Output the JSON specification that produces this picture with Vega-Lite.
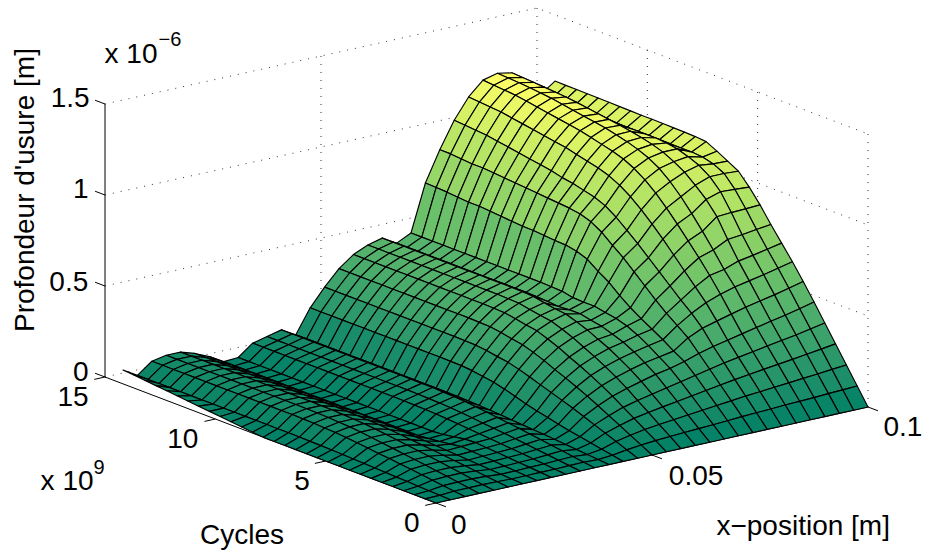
{"$schema":"https://vega.github.io/schema/vega-lite/v6.json","width":925,"height":554,"padding":0,"autosize":{"type":"fit","contains":"padding"},"background":"white","view":{"stroke":null},
"config":{"text":{"font":"Liberation Sans"}},
"layer":[
{"data":{"values":[
{"g":"z0","n":0,"x":0,"c":15,"z":0},{"g":"z0","n":1,"x":0.1,"c":15,"z":0},{"g":"z0","n":2,"x":0.1,"c":0,"z":0},
{"g":"z1","n":0,"x":0,"c":15,"z":0.5},{"g":"z1","n":1,"x":0.1,"c":15,"z":0.5},{"g":"z1","n":2,"x":0.1,"c":0,"z":0.5},
{"g":"z2","n":0,"x":0,"c":15,"z":1},{"g":"z2","n":1,"x":0.1,"c":15,"z":1},{"g":"z2","n":2,"x":0.1,"c":0,"z":1},
{"g":"z3","n":0,"x":0,"c":15,"z":1.5},{"g":"z3","n":1,"x":0.1,"c":15,"z":1.5},{"g":"z3","n":2,"x":0.1,"c":0,"z":1.5},
{"g":"v1","n":0,"x":0.05,"c":15,"z":0},{"g":"v1","n":1,"x":0.05,"c":15,"z":1.5},
{"g":"v2","n":0,"x":0.1,"c":15,"z":0},{"g":"v2","n":1,"x":0.1,"c":15,"z":1.5},
{"g":"v3","n":0,"x":0.1,"c":10,"z":0},{"g":"v3","n":1,"x":0.1,"c":10,"z":1.5},
{"g":"v4","n":0,"x":0.1,"c":5,"z":0},{"g":"v4","n":1,"x":0.1,"c":5,"z":1.5},
{"g":"v5","n":0,"x":0.1,"c":0,"z":0},{"g":"v5","n":1,"x":0.1,"c":0,"z":1.5}]},
"transform":[{"calculate":"436+datum.x*4320-datum.c*331/15","as":"sx"},{"calculate":"503-datum.x*960-datum.c*126/15-datum.z*182","as":"sy"}],
"mark":{"type":"line","stroke":"#333","strokeWidth":1,"strokeDash":[1,7]},
"encoding":{"x":{"field":"sx","type":"quantitative","scale":{"domain":[0,925]},"axis":null},"y":{"field":"sy","type":"quantitative","scale":{"domain":[554,0]},"axis":null},"detail":{"field":"g"},"order":{"field":"n"}}},
{"data":{"values":[
{"g":"az","n":0,"x":0,"c":15,"z":0},{"g":"az","n":1,"x":0,"c":15,"z":1.5},
{"g":"ac","n":0,"x":0,"c":15,"z":0},{"g":"ac","n":1,"x":0,"c":0,"z":0},
{"g":"ax","n":0,"x":0,"c":0,"z":0},{"g":"ax","n":1,"x":0.1,"c":0,"z":0},
{"g":"tz0","n":0,"x":0,"c":15,"z":0},{"g":"tz0","n":1,"x":0,"c":15.45,"z":0},
{"g":"tz1","n":0,"x":0,"c":15,"z":0.5},{"g":"tz1","n":1,"x":0,"c":15.45,"z":0.5},
{"g":"tz2","n":0,"x":0,"c":15,"z":1},{"g":"tz2","n":1,"x":0,"c":15.45,"z":1},
{"g":"tz3","n":0,"x":0,"c":15,"z":1.5},{"g":"tz3","n":1,"x":0,"c":15.45,"z":1.5},
{"g":"tc0","n":0,"x":0,"c":0,"z":0},{"g":"tc0","n":1,"x":-0.0025,"c":0,"z":0},
{"g":"tc1","n":0,"x":0,"c":5,"z":0},{"g":"tc1","n":1,"x":-0.0025,"c":5,"z":0},
{"g":"tc2","n":0,"x":0,"c":10,"z":0},{"g":"tc2","n":1,"x":-0.0025,"c":10,"z":0},
{"g":"tc3","n":0,"x":0,"c":15,"z":0},{"g":"tc3","n":1,"x":-0.0025,"c":15,"z":0},
{"g":"tx0","n":0,"x":0,"c":0,"z":0},{"g":"tx0","n":1,"x":0,"c":-0.45,"z":0},
{"g":"tx1","n":0,"x":0.05,"c":0,"z":0},{"g":"tx1","n":1,"x":0.05,"c":-0.45,"z":0},
{"g":"tx2","n":0,"x":0.1,"c":0,"z":0},{"g":"tx2","n":1,"x":0.1,"c":-0.45,"z":0}]},
"transform":[{"calculate":"436+datum.x*4320-datum.c*331/15","as":"sx"},{"calculate":"503-datum.x*960-datum.c*126/15-datum.z*182","as":"sy"}],
"mark":{"type":"line","stroke":"black","strokeWidth":1},
"encoding":{"x":{"field":"sx","type":"quantitative","scale":{"domain":[0,925]},"axis":null},"y":{"field":"sy","type":"quantitative","scale":{"domain":[554,0]},"axis":null},"detail":{"field":"g"},"order":{"field":"n"}}},
{"data":{"values":[
{"i":30,"j":29,"z":1.137},{"i":30,"j":28,"z":1.136},{"i":30,"j":27,"z":1.136},{"i":30,"j":26,"z":1.135},{"i":30,"j":25,"z":1.134},{"i":30,"j":24,"z":1.133},{"i":30,"j":23,"z":1.132},{"i":30,"j":22,"z":1.131},{"i":30,"j":21,"z":1.13},{"i":30,"j":20,"z":1.13},{"i":30,"j":19,"z":1.129},{"i":30,"j":18,"z":1.128},{"i":30,"j":17,"z":1.127},{"i":30,"j":16,"z":1.125},{"i":30,"j":15,"z":1.12},{"i":30,"j":14,"z":1.09},{"i":30,"j":13,"z":1.058},{"i":30,"j":12,"z":1.025},{"i":30,"j":11,"z":0.96},{"i":30,"j":10,"z":0.885},{"i":30,"j":9,"z":0.8},{"i":30,"j":8,"z":0.72},{"i":30,"j":7,"z":0.64},{"i":30,"j":6,"z":0.554},{"i":30,"j":5,"z":0.464},{"i":30,"j":4,"z":0.371},{"i":30,"j":3,"z":0.279},{"i":30,"j":2,"z":0.186},{"i":30,"j":1,"z":0.093},{"i":30,"j":0,"z":0},
{"i":29,"j":29,"z":1.08},{"i":29,"j":28,"z":1.08},{"i":29,"j":27,"z":1.08},{"i":29,"j":26,"z":1.08},{"i":29,"j":25,"z":1.08},{"i":29,"j":24,"z":1.08},{"i":29,"j":23,"z":1.08},{"i":29,"j":22,"z":1.08},{"i":29,"j":21,"z":1.08},{"i":29,"j":20,"z":1.08},{"i":29,"j":19,"z":1.08},{"i":29,"j":18,"z":1.08},{"i":29,"j":17,"z":1.08},{"i":29,"j":16,"z":1.08},{"i":29,"j":15,"z":1.08},{"i":29,"j":14,"z":1.075},{"i":29,"j":13,"z":1.06},{"i":29,"j":12,"z":1.03},{"i":29,"j":11,"z":0.965},{"i":29,"j":10,"z":0.881},{"i":29,"j":9,"z":0.79},{"i":29,"j":8,"z":0.704},{"i":29,"j":7,"z":0.622},{"i":29,"j":6,"z":0.535},{"i":29,"j":5,"z":0.445},{"i":29,"j":4,"z":0.356},{"i":29,"j":3,"z":0.268},{"i":29,"j":2,"z":0.179},{"i":29,"j":1,"z":0.089},{"i":29,"j":0,"z":0},
{"i":28,"j":29,"z":1.13},{"i":28,"j":28,"z":1.13},{"i":28,"j":27,"z":1.13},{"i":28,"j":26,"z":1.13},{"i":28,"j":25,"z":1.13},{"i":28,"j":24,"z":1.13},{"i":28,"j":23,"z":1.13},{"i":28,"j":22,"z":1.13},{"i":28,"j":21,"z":1.13},{"i":28,"j":20,"z":1.13},{"i":28,"j":19,"z":1.13},{"i":28,"j":18,"z":1.13},{"i":28,"j":17,"z":1.13},{"i":28,"j":16,"z":1.125},{"i":28,"j":15,"z":1.115},{"i":28,"j":14,"z":1.095},{"i":28,"j":13,"z":1.07},{"i":28,"j":12,"z":1.03},{"i":28,"j":11,"z":0.97},{"i":28,"j":10,"z":0.878},{"i":28,"j":9,"z":0.779},{"i":28,"j":8,"z":0.688},{"i":28,"j":7,"z":0.604},{"i":28,"j":6,"z":0.516},{"i":28,"j":5,"z":0.427},{"i":28,"j":4,"z":0.341},{"i":28,"j":3,"z":0.257},{"i":28,"j":2,"z":0.171},{"i":28,"j":1,"z":0.086},{"i":28,"j":0,"z":0},
{"i":27,"j":29,"z":1.235},{"i":27,"j":28,"z":1.232},{"i":27,"j":27,"z":1.228},{"i":27,"j":26,"z":1.224},{"i":27,"j":25,"z":1.22},{"i":27,"j":24,"z":1.215},{"i":27,"j":23,"z":1.208},{"i":27,"j":22,"z":1.2},{"i":27,"j":21,"z":1.19},{"i":27,"j":20,"z":1.182},{"i":27,"j":19,"z":1.172},{"i":27,"j":18,"z":1.162},{"i":27,"j":17,"z":1.15},{"i":27,"j":16,"z":1.135},{"i":27,"j":15,"z":1.115},{"i":27,"j":14,"z":1.085},{"i":27,"j":13,"z":1.05},{"i":27,"j":12,"z":1.0},{"i":27,"j":11,"z":0.945},{"i":27,"j":10,"z":0.873},{"i":27,"j":9,"z":0.77},{"i":27,"j":8,"z":0.674},{"i":27,"j":7,"z":0.588},{"i":27,"j":6,"z":0.5},{"i":27,"j":5,"z":0.411},{"i":27,"j":4,"z":0.328},{"i":27,"j":3,"z":0.247},{"i":27,"j":2,"z":0.165},{"i":27,"j":1,"z":0.082},{"i":27,"j":0,"z":0},
{"i":26,"j":29,"z":1.25},{"i":26,"j":28,"z":1.247},{"i":26,"j":27,"z":1.243},{"i":26,"j":26,"z":1.238},{"i":26,"j":25,"z":1.232},{"i":26,"j":24,"z":1.225},{"i":26,"j":23,"z":1.215},{"i":26,"j":22,"z":1.205},{"i":26,"j":21,"z":1.195},{"i":26,"j":20,"z":1.185},{"i":26,"j":19,"z":1.175},{"i":26,"j":18,"z":1.16},{"i":26,"j":17,"z":1.145},{"i":26,"j":16,"z":1.125},{"i":26,"j":15,"z":1.1},{"i":26,"j":14,"z":1.065},{"i":26,"j":13,"z":1.015},{"i":26,"j":12,"z":0.955},{"i":26,"j":11,"z":0.885},{"i":26,"j":10,"z":0.81},{"i":26,"j":9,"z":0.73},{"i":26,"j":8,"z":0.645},{"i":26,"j":7,"z":0.572},{"i":26,"j":6,"z":0.483},{"i":26,"j":5,"z":0.394},{"i":26,"j":4,"z":0.315},{"i":26,"j":3,"z":0.237},{"i":26,"j":2,"z":0.158},{"i":26,"j":1,"z":0.079},{"i":26,"j":0,"z":0},
{"i":25,"j":29,"z":1.23},{"i":25,"j":28,"z":1.225},{"i":25,"j":27,"z":1.22},{"i":25,"j":26,"z":1.215},{"i":25,"j":25,"z":1.205},{"i":25,"j":24,"z":1.195},{"i":25,"j":23,"z":1.185},{"i":25,"j":22,"z":1.175},{"i":25,"j":21,"z":1.165},{"i":25,"j":20,"z":1.155},{"i":25,"j":19,"z":1.14},{"i":25,"j":18,"z":1.125},{"i":25,"j":17,"z":1.11},{"i":25,"j":16,"z":1.09},{"i":25,"j":15,"z":1.06},{"i":25,"j":14,"z":1.02},{"i":25,"j":13,"z":0.97},{"i":25,"j":12,"z":0.91},{"i":25,"j":11,"z":0.845},{"i":25,"j":10,"z":0.775},{"i":25,"j":9,"z":0.705},{"i":25,"j":8,"z":0.63},{"i":25,"j":7,"z":0.55},{"i":25,"j":6,"z":0.463},{"i":25,"j":5,"z":0.377},{"i":25,"j":4,"z":0.301},{"i":25,"j":3,"z":0.227},{"i":25,"j":2,"z":0.151},{"i":25,"j":1,"z":0.076},{"i":25,"j":0,"z":0},
{"i":24,"j":29,"z":1.155},{"i":24,"j":28,"z":1.15},{"i":24,"j":27,"z":1.145},{"i":24,"j":26,"z":1.14},{"i":24,"j":25,"z":1.13},{"i":24,"j":24,"z":1.12},{"i":24,"j":23,"z":1.11},{"i":24,"j":22,"z":1.1},{"i":24,"j":21,"z":1.09},{"i":24,"j":20,"z":1.08},{"i":24,"j":19,"z":1.065},{"i":24,"j":18,"z":1.05},{"i":24,"j":17,"z":1.035},{"i":24,"j":16,"z":1.015},{"i":24,"j":15,"z":0.985},{"i":24,"j":14,"z":0.945},{"i":24,"j":13,"z":0.895},{"i":24,"j":12,"z":0.84},{"i":24,"j":11,"z":0.78},{"i":24,"j":10,"z":0.715},{"i":24,"j":9,"z":0.65},{"i":24,"j":8,"z":0.585},{"i":24,"j":7,"z":0.52},{"i":24,"j":6,"z":0.442},{"i":24,"j":5,"z":0.36},{"i":24,"j":4,"z":0.288},{"i":24,"j":3,"z":0.216},{"i":24,"j":2,"z":0.144},{"i":24,"j":1,"z":0.072},{"i":24,"j":0,"z":0},
{"i":23,"j":29,"z":1.045},{"i":23,"j":28,"z":1.04},{"i":23,"j":27,"z":1.035},{"i":23,"j":26,"z":1.03},{"i":23,"j":25,"z":1.02},{"i":23,"j":24,"z":1.01},{"i":23,"j":23,"z":1.0},{"i":23,"j":22,"z":0.99},{"i":23,"j":21,"z":0.98},{"i":23,"j":20,"z":0.97},{"i":23,"j":19,"z":0.955},{"i":23,"j":18,"z":0.945},{"i":23,"j":17,"z":0.93},{"i":23,"j":16,"z":0.915},{"i":23,"j":15,"z":0.89},{"i":23,"j":14,"z":0.85},{"i":23,"j":13,"z":0.8},{"i":23,"j":12,"z":0.75},{"i":23,"j":11,"z":0.695},{"i":23,"j":10,"z":0.64},{"i":23,"j":9,"z":0.585},{"i":23,"j":8,"z":0.53},{"i":23,"j":7,"z":0.48},{"i":23,"j":6,"z":0.42},{"i":23,"j":5,"z":0.343},{"i":23,"j":4,"z":0.275},{"i":23,"j":3,"z":0.206},{"i":23,"j":2,"z":0.138},{"i":23,"j":1,"z":0.069},{"i":23,"j":0,"z":0},
{"i":22,"j":29,"z":0.9},{"i":22,"j":28,"z":0.9},{"i":22,"j":27,"z":0.895},{"i":22,"j":26,"z":0.89},{"i":22,"j":25,"z":0.89},{"i":22,"j":24,"z":0.885},{"i":22,"j":23,"z":0.88},{"i":22,"j":22,"z":0.875},{"i":22,"j":21,"z":0.87},{"i":22,"j":20,"z":0.865},{"i":22,"j":19,"z":0.86},{"i":22,"j":18,"z":0.855},{"i":22,"j":17,"z":0.85},{"i":22,"j":16,"z":0.84},{"i":22,"j":15,"z":0.82},{"i":22,"j":14,"z":0.785},{"i":22,"j":13,"z":0.735},{"i":22,"j":12,"z":0.69},{"i":22,"j":11,"z":0.635},{"i":22,"j":10,"z":0.58},{"i":22,"j":9,"z":0.525},{"i":22,"j":8,"z":0.475},{"i":22,"j":7,"z":0.43},{"i":22,"j":6,"z":0.385},{"i":22,"j":5,"z":0.322},{"i":22,"j":4,"z":0.258},{"i":22,"j":3,"z":0.194},{"i":22,"j":2,"z":0.129},{"i":22,"j":1,"z":0.065},{"i":22,"j":0,"z":0},
{"i":21,"j":29,"z":0.735},{"i":21,"j":28,"z":0.733},{"i":21,"j":27,"z":0.73},{"i":21,"j":26,"z":0.725},{"i":21,"j":25,"z":0.72},{"i":21,"j":24,"z":0.72},{"i":21,"j":23,"z":0.715},{"i":21,"j":22,"z":0.71},{"i":21,"j":21,"z":0.705},{"i":21,"j":20,"z":0.7},{"i":21,"j":19,"z":0.7},{"i":21,"j":18,"z":0.695},{"i":21,"j":17,"z":0.69},{"i":21,"j":16,"z":0.687},{"i":21,"j":15,"z":0.676},{"i":21,"j":14,"z":0.654},{"i":21,"j":13,"z":0.61},{"i":21,"j":12,"z":0.573},{"i":21,"j":11,"z":0.522},{"i":21,"j":10,"z":0.478},{"i":21,"j":9,"z":0.44},{"i":21,"j":8,"z":0.405},{"i":21,"j":7,"z":0.37},{"i":21,"j":6,"z":0.33},{"i":21,"j":5,"z":0.295},{"i":21,"j":4,"z":0.241},{"i":21,"j":3,"z":0.181},{"i":21,"j":2,"z":0.121},{"i":21,"j":1,"z":0.06},{"i":21,"j":0,"z":0},
{"i":20,"j":29,"z":0.478},{"i":20,"j":28,"z":0.478},{"i":20,"j":27,"z":0.478},{"i":20,"j":26,"z":0.478},{"i":20,"j":25,"z":0.478},{"i":20,"j":24,"z":0.478},{"i":20,"j":23,"z":0.478},{"i":20,"j":22,"z":0.478},{"i":20,"j":21,"z":0.478},{"i":20,"j":20,"z":0.478},{"i":20,"j":19,"z":0.478},{"i":20,"j":18,"z":0.478},{"i":20,"j":17,"z":0.478},{"i":20,"j":16,"z":0.476},{"i":20,"j":15,"z":0.473},{"i":20,"j":14,"z":0.461},{"i":20,"j":13,"z":0.458},{"i":20,"j":12,"z":0.459},{"i":20,"j":11,"z":0.447},{"i":20,"j":10,"z":0.437},{"i":20,"j":9,"z":0.418},{"i":20,"j":8,"z":0.39},{"i":20,"j":7,"z":0.355},{"i":20,"j":6,"z":0.315},{"i":20,"j":5,"z":0.275},{"i":20,"j":4,"z":0.224},{"i":20,"j":3,"z":0.169},{"i":20,"j":2,"z":0.113},{"i":20,"j":1,"z":0.056},{"i":20,"j":0,"z":0},
{"i":19,"j":29,"z":0.44},{"i":19,"j":28,"z":0.44},{"i":19,"j":27,"z":0.44},{"i":19,"j":26,"z":0.44},{"i":19,"j":25,"z":0.44},{"i":19,"j":24,"z":0.44},{"i":19,"j":23,"z":0.44},{"i":19,"j":22,"z":0.44},{"i":19,"j":21,"z":0.44},{"i":19,"j":20,"z":0.44},{"i":19,"j":19,"z":0.44},{"i":19,"j":18,"z":0.44},{"i":19,"j":17,"z":0.44},{"i":19,"j":16,"z":0.438},{"i":19,"j":15,"z":0.435},{"i":19,"j":14,"z":0.43},{"i":19,"j":13,"z":0.434},{"i":19,"j":12,"z":0.435},{"i":19,"j":11,"z":0.422},{"i":19,"j":10,"z":0.411},{"i":19,"j":9,"z":0.39},{"i":19,"j":8,"z":0.369},{"i":19,"j":7,"z":0.338},{"i":19,"j":6,"z":0.301},{"i":19,"j":5,"z":0.26},{"i":19,"j":4,"z":0.208},{"i":19,"j":3,"z":0.156},{"i":19,"j":2,"z":0.104},{"i":19,"j":1,"z":0.052},{"i":19,"j":0,"z":0},
{"i":18,"j":29,"z":0.485},{"i":18,"j":28,"z":0.485},{"i":18,"j":27,"z":0.485},{"i":18,"j":26,"z":0.485},{"i":18,"j":25,"z":0.485},{"i":18,"j":24,"z":0.485},{"i":18,"j":23,"z":0.485},{"i":18,"j":22,"z":0.485},{"i":18,"j":21,"z":0.485},{"i":18,"j":20,"z":0.485},{"i":18,"j":19,"z":0.485},{"i":18,"j":18,"z":0.485},{"i":18,"j":17,"z":0.485},{"i":18,"j":16,"z":0.483},{"i":18,"j":15,"z":0.48},{"i":18,"j":14,"z":0.468},{"i":18,"j":13,"z":0.458},{"i":18,"j":12,"z":0.451},{"i":18,"j":11,"z":0.431},{"i":18,"j":10,"z":0.409},{"i":18,"j":9,"z":0.38},{"i":18,"j":8,"z":0.352},{"i":18,"j":7,"z":0.318},{"i":18,"j":6,"z":0.281},{"i":18,"j":5,"z":0.239},{"i":18,"j":4,"z":0.191},{"i":18,"j":3,"z":0.144},{"i":18,"j":2,"z":0.096},{"i":18,"j":1,"z":0.048},{"i":18,"j":0,"z":0},
{"i":17,"j":29,"z":0.465},{"i":17,"j":28,"z":0.465},{"i":17,"j":27,"z":0.465},{"i":17,"j":26,"z":0.465},{"i":17,"j":25,"z":0.465},{"i":17,"j":24,"z":0.465},{"i":17,"j":23,"z":0.465},{"i":17,"j":22,"z":0.465},{"i":17,"j":21,"z":0.465},{"i":17,"j":20,"z":0.465},{"i":17,"j":19,"z":0.465},{"i":17,"j":18,"z":0.465},{"i":17,"j":17,"z":0.465},{"i":17,"j":16,"z":0.463},{"i":17,"j":15,"z":0.46},{"i":17,"j":14,"z":0.449},{"i":17,"j":13,"z":0.438},{"i":17,"j":12,"z":0.429},{"i":17,"j":11,"z":0.408},{"i":17,"j":10,"z":0.384},{"i":17,"j":9,"z":0.354},{"i":17,"j":8,"z":0.325},{"i":17,"j":7,"z":0.293},{"i":17,"j":6,"z":0.257},{"i":17,"j":5,"z":0.218},{"i":17,"j":4,"z":0.174},{"i":17,"j":3,"z":0.131},{"i":17,"j":2,"z":0.087},{"i":17,"j":1,"z":0.044},{"i":17,"j":0,"z":0},
{"i":16,"j":29,"z":0.43},{"i":16,"j":28,"z":0.43},{"i":16,"j":27,"z":0.43},{"i":16,"j":26,"z":0.43},{"i":16,"j":25,"z":0.43},{"i":16,"j":24,"z":0.43},{"i":16,"j":23,"z":0.43},{"i":16,"j":22,"z":0.43},{"i":16,"j":21,"z":0.43},{"i":16,"j":20,"z":0.43},{"i":16,"j":19,"z":0.43},{"i":16,"j":18,"z":0.43},{"i":16,"j":17,"z":0.43},{"i":16,"j":16,"z":0.428},{"i":16,"j":15,"z":0.426},{"i":16,"j":14,"z":0.415},{"i":16,"j":13,"z":0.403},{"i":16,"j":12,"z":0.394},{"i":16,"j":11,"z":0.372},{"i":16,"j":10,"z":0.348},{"i":16,"j":9,"z":0.318},{"i":16,"j":8,"z":0.291},{"i":16,"j":7,"z":0.261},{"i":16,"j":6,"z":0.228},{"i":16,"j":5,"z":0.193},{"i":16,"j":4,"z":0.154},{"i":16,"j":3,"z":0.116},{"i":16,"j":2,"z":0.077},{"i":16,"j":1,"z":0.039},{"i":16,"j":0,"z":0},
{"i":15,"j":29,"z":0.37},{"i":15,"j":28,"z":0.37},{"i":15,"j":27,"z":0.37},{"i":15,"j":26,"z":0.37},{"i":15,"j":25,"z":0.37},{"i":15,"j":24,"z":0.37},{"i":15,"j":23,"z":0.37},{"i":15,"j":22,"z":0.37},{"i":15,"j":21,"z":0.37},{"i":15,"j":20,"z":0.37},{"i":15,"j":19,"z":0.37},{"i":15,"j":18,"z":0.37},{"i":15,"j":17,"z":0.37},{"i":15,"j":16,"z":0.368},{"i":15,"j":15,"z":0.366},{"i":15,"j":14,"z":0.357},{"i":15,"j":13,"z":0.345},{"i":15,"j":12,"z":0.335},{"i":15,"j":11,"z":0.316},{"i":15,"j":10,"z":0.293},{"i":15,"j":9,"z":0.266},{"i":15,"j":8,"z":0.242},{"i":15,"j":7,"z":0.216},{"i":15,"j":6,"z":0.188},{"i":15,"j":5,"z":0.158},{"i":15,"j":4,"z":0.126},{"i":15,"j":3,"z":0.095},{"i":15,"j":2,"z":0.063},{"i":15,"j":1,"z":0.032},{"i":15,"j":0,"z":0},
{"i":14,"j":29,"z":0.286},{"i":14,"j":28,"z":0.286},{"i":14,"j":27,"z":0.286},{"i":14,"j":26,"z":0.286},{"i":14,"j":25,"z":0.286},{"i":14,"j":24,"z":0.286},{"i":14,"j":23,"z":0.286},{"i":14,"j":22,"z":0.286},{"i":14,"j":21,"z":0.286},{"i":14,"j":20,"z":0.286},{"i":14,"j":19,"z":0.286},{"i":14,"j":18,"z":0.286},{"i":14,"j":17,"z":0.286},{"i":14,"j":16,"z":0.285},{"i":14,"j":15,"z":0.283},{"i":14,"j":14,"z":0.276},{"i":14,"j":13,"z":0.265},{"i":14,"j":12,"z":0.256},{"i":14,"j":11,"z":0.24},{"i":14,"j":10,"z":0.221},{"i":14,"j":9,"z":0.2},{"i":14,"j":8,"z":0.18},{"i":14,"j":7,"z":0.16},{"i":14,"j":6,"z":0.139},{"i":14,"j":5,"z":0.116},{"i":14,"j":4,"z":0.093},{"i":14,"j":3,"z":0.07},{"i":14,"j":2,"z":0.047},{"i":14,"j":1,"z":0.023},{"i":14,"j":0,"z":0},
{"i":13,"j":29,"z":0.19},{"i":13,"j":28,"z":0.19},{"i":13,"j":27,"z":0.19},{"i":13,"j":26,"z":0.19},{"i":13,"j":25,"z":0.19},{"i":13,"j":24,"z":0.19},{"i":13,"j":23,"z":0.19},{"i":13,"j":22,"z":0.19},{"i":13,"j":21,"z":0.19},{"i":13,"j":20,"z":0.19},{"i":13,"j":19,"z":0.19},{"i":13,"j":18,"z":0.19},{"i":13,"j":17,"z":0.19},{"i":13,"j":16,"z":0.189},{"i":13,"j":15,"z":0.188},{"i":13,"j":14,"z":0.183},{"i":13,"j":13,"z":0.174},{"i":13,"j":12,"z":0.164},{"i":13,"j":11,"z":0.149},{"i":13,"j":10,"z":0.131},{"i":13,"j":9,"z":0.113},{"i":13,"j":8,"z":0.096},{"i":13,"j":7,"z":0.083},{"i":13,"j":6,"z":0.069},{"i":13,"j":5,"z":0.056},{"i":13,"j":4,"z":0.045},{"i":13,"j":3,"z":0.033},{"i":13,"j":2,"z":0.022},{"i":13,"j":1,"z":0.011},{"i":13,"j":0,"z":0},
{"i":12,"j":29,"z":0.06},{"i":12,"j":28,"z":0.06},{"i":12,"j":27,"z":0.06},{"i":12,"j":26,"z":0.06},{"i":12,"j":25,"z":0.06},{"i":12,"j":24,"z":0.06},{"i":12,"j":23,"z":0.06},{"i":12,"j":22,"z":0.06},{"i":12,"j":21,"z":0.06},{"i":12,"j":20,"z":0.06},{"i":12,"j":19,"z":0.06},{"i":12,"j":18,"z":0.06},{"i":12,"j":17,"z":0.06},{"i":12,"j":16,"z":0.06},{"i":12,"j":15,"z":0.059},{"i":12,"j":14,"z":0.058},{"i":12,"j":13,"z":0.056},{"i":12,"j":12,"z":0.054},{"i":12,"j":11,"z":0.051},{"i":12,"j":10,"z":0.047},{"i":12,"j":9,"z":0.042},{"i":12,"j":8,"z":0.038},{"i":12,"j":7,"z":0.034},{"i":12,"j":6,"z":0.03},{"i":12,"j":5,"z":0.025},{"i":12,"j":4,"z":0.02},{"i":12,"j":3,"z":0.015},{"i":12,"j":2,"z":0.01},{"i":12,"j":1,"z":0.005},{"i":12,"j":0,"z":0},
{"i":11,"j":29,"z":0.104},{"i":11,"j":28,"z":0.104},{"i":11,"j":27,"z":0.104},{"i":11,"j":26,"z":0.104},{"i":11,"j":25,"z":0.104},{"i":11,"j":24,"z":0.104},{"i":11,"j":23,"z":0.104},{"i":11,"j":22,"z":0.104},{"i":11,"j":21,"z":0.104},{"i":11,"j":20,"z":0.104},{"i":11,"j":19,"z":0.104},{"i":11,"j":18,"z":0.104},{"i":11,"j":17,"z":0.104},{"i":11,"j":16,"z":0.103},{"i":11,"j":15,"z":0.103},{"i":11,"j":14,"z":0.1},{"i":11,"j":13,"z":0.097},{"i":11,"j":12,"z":0.094},{"i":11,"j":11,"z":0.088},{"i":11,"j":10,"z":0.081},{"i":11,"j":9,"z":0.074},{"i":11,"j":8,"z":0.066},{"i":11,"j":7,"z":0.059},{"i":11,"j":6,"z":0.051},{"i":11,"j":5,"z":0.043},{"i":11,"j":4,"z":0.034},{"i":11,"j":3,"z":0.026},{"i":11,"j":2,"z":0.017},{"i":11,"j":1,"z":0.008},{"i":11,"j":0,"z":0},
{"i":10,"j":29,"z":0.085},{"i":10,"j":28,"z":0.085},{"i":10,"j":27,"z":0.085},{"i":10,"j":26,"z":0.085},{"i":10,"j":25,"z":0.085},{"i":10,"j":24,"z":0.085},{"i":10,"j":23,"z":0.085},{"i":10,"j":22,"z":0.085},{"i":10,"j":21,"z":0.085},{"i":10,"j":20,"z":0.085},{"i":10,"j":19,"z":0.085},{"i":10,"j":18,"z":0.085},{"i":10,"j":17,"z":0.085},{"i":10,"j":16,"z":0.085},{"i":10,"j":15,"z":0.084},{"i":10,"j":14,"z":0.082},{"i":10,"j":13,"z":0.08},{"i":10,"j":12,"z":0.077},{"i":10,"j":11,"z":0.072},{"i":10,"j":10,"z":0.067},{"i":10,"j":9,"z":0.06},{"i":10,"j":8,"z":0.054},{"i":10,"j":7,"z":0.048},{"i":10,"j":6,"z":0.042},{"i":10,"j":5,"z":0.035},{"i":10,"j":4,"z":0.028},{"i":10,"j":3,"z":0.021},{"i":10,"j":2,"z":0.014},{"i":10,"j":1,"z":0.007},{"i":10,"j":0,"z":0},
{"i":9,"j":29,"z":0.066},{"i":9,"j":28,"z":0.066},{"i":9,"j":27,"z":0.066},{"i":9,"j":26,"z":0.066},{"i":9,"j":25,"z":0.066},{"i":9,"j":24,"z":0.066},{"i":9,"j":23,"z":0.066},{"i":9,"j":22,"z":0.066},{"i":9,"j":21,"z":0.066},{"i":9,"j":20,"z":0.066},{"i":9,"j":19,"z":0.066},{"i":9,"j":18,"z":0.066},{"i":9,"j":17,"z":0.066},{"i":9,"j":16,"z":0.066},{"i":9,"j":15,"z":0.065},{"i":9,"j":14,"z":0.064},{"i":9,"j":13,"z":0.062},{"i":9,"j":12,"z":0.06},{"i":9,"j":11,"z":0.056},{"i":9,"j":10,"z":0.052},{"i":9,"j":9,"z":0.047},{"i":9,"j":8,"z":0.042},{"i":9,"j":7,"z":0.037},{"i":9,"j":6,"z":0.032},{"i":9,"j":5,"z":0.027},{"i":9,"j":4,"z":0.022},{"i":9,"j":3,"z":0.016},{"i":9,"j":2,"z":0.011},{"i":9,"j":1,"z":0.005},{"i":9,"j":0,"z":0},
{"i":8,"j":29,"z":0.005},{"i":8,"j":28,"z":0.005},{"i":8,"j":27,"z":0.005},{"i":8,"j":26,"z":0.005},{"i":8,"j":25,"z":0.005},{"i":8,"j":24,"z":0.005},{"i":8,"j":23,"z":0.005},{"i":8,"j":22,"z":0.005},{"i":8,"j":21,"z":0.005},{"i":8,"j":20,"z":0.005},{"i":8,"j":19,"z":0.005},{"i":8,"j":18,"z":0.005},{"i":8,"j":17,"z":0.005},{"i":8,"j":16,"z":0.005},{"i":8,"j":15,"z":0.005},{"i":8,"j":14,"z":0.005},{"i":8,"j":13,"z":0.005},{"i":8,"j":12,"z":0.005},{"i":8,"j":11,"z":0.005},{"i":8,"j":10,"z":0.01},{"i":8,"j":9,"z":0.02},{"i":8,"j":8,"z":0.03},{"i":8,"j":7,"z":0.033},{"i":8,"j":6,"z":0.028},{"i":8,"j":5,"z":0.024},{"i":8,"j":4,"z":0.019},{"i":8,"j":3,"z":0.014},{"i":8,"j":2,"z":0.01},{"i":8,"j":1,"z":0.005},{"i":8,"j":0,"z":0},
{"i":7,"j":29,"z":0},{"i":7,"j":28,"z":0},{"i":7,"j":27,"z":0},{"i":7,"j":26,"z":0},{"i":7,"j":25,"z":0},{"i":7,"j":24,"z":0},{"i":7,"j":23,"z":0},{"i":7,"j":22,"z":0},{"i":7,"j":21,"z":0},{"i":7,"j":20,"z":0},{"i":7,"j":19,"z":0},{"i":7,"j":18,"z":0},{"i":7,"j":17,"z":0},{"i":7,"j":16,"z":0},{"i":7,"j":15,"z":0},{"i":7,"j":14,"z":0},{"i":7,"j":13,"z":0},{"i":7,"j":12,"z":0},{"i":7,"j":11,"z":0},{"i":7,"j":10,"z":0.005},{"i":7,"j":9,"z":0.012},{"i":7,"j":8,"z":0.02},{"i":7,"j":7,"z":0.029},{"i":7,"j":6,"z":0.025},{"i":7,"j":5,"z":0.021},{"i":7,"j":4,"z":0.017},{"i":7,"j":3,"z":0.012},{"i":7,"j":2,"z":0.008},{"i":7,"j":1,"z":0.004},{"i":7,"j":0,"z":0},
{"i":6,"j":29,"z":0.045},{"i":6,"j":28,"z":0.045},{"i":6,"j":27,"z":0.045},{"i":6,"j":26,"z":0.045},{"i":6,"j":25,"z":0.045},{"i":6,"j":24,"z":0.045},{"i":6,"j":23,"z":0.045},{"i":6,"j":22,"z":0.045},{"i":6,"j":21,"z":0.045},{"i":6,"j":20,"z":0.045},{"i":6,"j":19,"z":0.045},{"i":6,"j":18,"z":0.045},{"i":6,"j":17,"z":0.045},{"i":6,"j":16,"z":0.045},{"i":6,"j":15,"z":0.045},{"i":6,"j":14,"z":0.043},{"i":6,"j":13,"z":0.042},{"i":6,"j":12,"z":0.041},{"i":6,"j":11,"z":0.038},{"i":6,"j":10,"z":0.035},{"i":6,"j":9,"z":0.032},{"i":6,"j":8,"z":0.029},{"i":6,"j":7,"z":0.025},{"i":6,"j":6,"z":0.022},{"i":6,"j":5,"z":0.018},{"i":6,"j":4,"z":0.015},{"i":6,"j":3,"z":0.011},{"i":6,"j":2,"z":0.007},{"i":6,"j":1,"z":0.004},{"i":6,"j":0,"z":0},
{"i":5,"j":29,"z":0.08},{"i":5,"j":28,"z":0.08},{"i":5,"j":27,"z":0.08},{"i":5,"j":26,"z":0.08},{"i":5,"j":25,"z":0.08},{"i":5,"j":24,"z":0.08},{"i":5,"j":23,"z":0.08},{"i":5,"j":22,"z":0.08},{"i":5,"j":21,"z":0.08},{"i":5,"j":20,"z":0.08},{"i":5,"j":19,"z":0.08},{"i":5,"j":18,"z":0.08},{"i":5,"j":17,"z":0.08},{"i":5,"j":16,"z":0.08},{"i":5,"j":15,"z":0.079},{"i":5,"j":14,"z":0.077},{"i":5,"j":13,"z":0.075},{"i":5,"j":12,"z":0.073},{"i":5,"j":11,"z":0.068},{"i":5,"j":10,"z":0.063},{"i":5,"j":9,"z":0.057},{"i":5,"j":8,"z":0.051},{"i":5,"j":7,"z":0.045},{"i":5,"j":6,"z":0.039},{"i":5,"j":5,"z":0.033},{"i":5,"j":4,"z":0.026},{"i":5,"j":3,"z":0.02},{"i":5,"j":2,"z":0.013},{"i":5,"j":1,"z":0.006},{"i":5,"j":0,"z":0},
{"i":4,"j":29,"z":0.105},{"i":4,"j":28,"z":0.105},{"i":4,"j":27,"z":0.105},{"i":4,"j":26,"z":0.105},{"i":4,"j":25,"z":0.105},{"i":4,"j":24,"z":0.105},{"i":4,"j":23,"z":0.105},{"i":4,"j":22,"z":0.105},{"i":4,"j":21,"z":0.105},{"i":4,"j":20,"z":0.105},{"i":4,"j":19,"z":0.105},{"i":4,"j":18,"z":0.105},{"i":4,"j":17,"z":0.105},{"i":4,"j":16,"z":0.104},{"i":4,"j":15,"z":0.104},{"i":4,"j":14,"z":0.101},{"i":4,"j":13,"z":0.098},{"i":4,"j":12,"z":0.095},{"i":4,"j":11,"z":0.089},{"i":4,"j":10,"z":0.082},{"i":4,"j":9,"z":0.074},{"i":4,"j":8,"z":0.067},{"i":4,"j":7,"z":0.059},{"i":4,"j":6,"z":0.051},{"i":4,"j":5,"z":0.043},{"i":4,"j":4,"z":0.034},{"i":4,"j":3,"z":0.026},{"i":4,"j":2,"z":0.017},{"i":4,"j":1,"z":0.008},{"i":4,"j":0,"z":0},
{"i":3,"j":29,"z":0.105},{"i":3,"j":28,"z":0.105},{"i":3,"j":27,"z":0.105},{"i":3,"j":26,"z":0.105},{"i":3,"j":25,"z":0.105},{"i":3,"j":24,"z":0.105},{"i":3,"j":23,"z":0.105},{"i":3,"j":22,"z":0.105},{"i":3,"j":21,"z":0.105},{"i":3,"j":20,"z":0.105},{"i":3,"j":19,"z":0.105},{"i":3,"j":18,"z":0.105},{"i":3,"j":17,"z":0.105},{"i":3,"j":16,"z":0.104},{"i":3,"j":15,"z":0.104},{"i":3,"j":14,"z":0.101},{"i":3,"j":13,"z":0.098},{"i":3,"j":12,"z":0.095},{"i":3,"j":11,"z":0.089},{"i":3,"j":10,"z":0.082},{"i":3,"j":9,"z":0.074},{"i":3,"j":8,"z":0.067},{"i":3,"j":7,"z":0.059},{"i":3,"j":6,"z":0.051},{"i":3,"j":5,"z":0.043},{"i":3,"j":4,"z":0.034},{"i":3,"j":3,"z":0.026},{"i":3,"j":2,"z":0.017},{"i":3,"j":1,"z":0.008},{"i":3,"j":0,"z":0},
{"i":2,"j":29,"z":0.09},{"i":2,"j":28,"z":0.09},{"i":2,"j":27,"z":0.09},{"i":2,"j":26,"z":0.09},{"i":2,"j":25,"z":0.09},{"i":2,"j":24,"z":0.09},{"i":2,"j":23,"z":0.09},{"i":2,"j":22,"z":0.09},{"i":2,"j":21,"z":0.09},{"i":2,"j":20,"z":0.09},{"i":2,"j":19,"z":0.09},{"i":2,"j":18,"z":0.09},{"i":2,"j":17,"z":0.09},{"i":2,"j":16,"z":0.09},{"i":2,"j":15,"z":0.089},{"i":2,"j":14,"z":0.087},{"i":2,"j":13,"z":0.084},{"i":2,"j":12,"z":0.082},{"i":2,"j":11,"z":0.077},{"i":2,"j":10,"z":0.07},{"i":2,"j":9,"z":0.064},{"i":2,"j":8,"z":0.057},{"i":2,"j":7,"z":0.051},{"i":2,"j":6,"z":0.044},{"i":2,"j":5,"z":0.037},{"i":2,"j":4,"z":0.03},{"i":2,"j":3,"z":0.022},{"i":2,"j":2,"z":0.015},{"i":2,"j":1,"z":0.007},{"i":2,"j":0,"z":0},
{"i":1,"j":29,"z":0.03},{"i":1,"j":28,"z":0.03},{"i":1,"j":27,"z":0.03},{"i":1,"j":26,"z":0.03},{"i":1,"j":25,"z":0.03},{"i":1,"j":24,"z":0.03},{"i":1,"j":23,"z":0.03},{"i":1,"j":22,"z":0.03},{"i":1,"j":21,"z":0.03},{"i":1,"j":20,"z":0.03},{"i":1,"j":19,"z":0.03},{"i":1,"j":18,"z":0.03},{"i":1,"j":17,"z":0.03},{"i":1,"j":16,"z":0.03},{"i":1,"j":15,"z":0.03},{"i":1,"j":14,"z":0.029},{"i":1,"j":13,"z":0.028},{"i":1,"j":12,"z":0.027},{"i":1,"j":11,"z":0.026},{"i":1,"j":10,"z":0.023},{"i":1,"j":9,"z":0.021},{"i":1,"j":8,"z":0.019},{"i":1,"j":7,"z":0.017},{"i":1,"j":6,"z":0.015},{"i":1,"j":5,"z":0.012},{"i":1,"j":4,"z":0.01},{"i":1,"j":3,"z":0.007},{"i":1,"j":2,"z":0.005},{"i":1,"j":1,"z":0.002},{"i":1,"j":0,"z":0},
{"i":0,"j":29,"z":0.077},{"i":0,"j":28,"z":0.072},{"i":0,"j":27,"z":0.066},{"i":0,"j":26,"z":0.06},{"i":0,"j":25,"z":0.054},{"i":0,"j":24,"z":0.048},{"i":0,"j":23,"z":0.042},{"i":0,"j":22,"z":0.036},{"i":0,"j":21,"z":0.03},{"i":0,"j":20,"z":0.024},{"i":0,"j":19,"z":0.018},{"i":0,"j":18,"z":0.012},{"i":0,"j":17,"z":0.006},{"i":0,"j":16,"z":0},{"i":0,"j":15,"z":0},{"i":0,"j":14,"z":0},{"i":0,"j":13,"z":0},{"i":0,"j":12,"z":0},{"i":0,"j":11,"z":0},{"i":0,"j":10,"z":0},{"i":0,"j":9,"z":0},{"i":0,"j":8,"z":0},{"i":0,"j":7,"z":0},{"i":0,"j":6,"z":0},{"i":0,"j":5,"z":0},{"i":0,"j":4,"z":0},{"i":0,"j":3,"z":0},{"i":0,"j":2,"z":0},{"i":0,"j":1,"z":0},{"i":0,"j":0,"z":0}
]},
"transform":[{"calculate":"[0,1,2,3,4]","as":"k"},{"flatten":["k"]},{"calculate":"datum.i-((datum.k==1||datum.k==2)?1:0)","as":"qi"},{"calculate":"datum.j-((datum.k==2||datum.k==3)?1:0)","as":"qj"},{"filter":"datum.qi>=0&&datum.qi<30&&datum.qj>=0&&datum.qj<29"},{"calculate":"datum.qi*100+datum.qj","as":"q"},{"joinaggregate":[{"op":"mean","field":"z","as":"zm"}],"groupby":["q"]},{"calculate":"436+datum.i/30*432-datum.j/29*313","as":"sx"},{"calculate":"503-datum.i/30*96-datum.j/29*119-datum.z*182","as":"sy"}],
"mark":{"type":"line","stroke":"black","strokeWidth":1.15,"strokeJoin":"round"},
"encoding":{"x":{"field":"sx","type":"quantitative","scale":{"domain":[0,925]},"axis":null},"y":{"field":"sy","type":"quantitative","scale":{"domain":[554,0]},"axis":null},"detail":{"field":"q"},"order":{"field":"k"},"fill":{"field":"zm","type":"quantitative","scale":{"domain":[0,1.25],"range":["#008066","#ffff66"]},"legend":null}}},
{"data":{"values":[
{"t":"1.5","x":-0.0847,"c":0,"z":2.667},{"t":"1","x":-0.0822,"c":0,"z":2.153},{"t":"0.5","x":-0.085,"c":0,"z":1.657},{"t":"0","x":-0.0822,"c":0,"z":1.148},
{"t":"15","x":-0.084,"c":0,"z":1.02},{"t":"10","x":-0.0586,"c":0,"z":0.655},{"t":"5","x":-0.031,"c":0,"z":0.279},{"t":"0","x":-0.0056,"c":0,"z":-0.086},
{"t":"0","x":0.0053,"c":0,"z":-0.154},{"t":"0.05","x":0.0602,"c":0,"z":-0.175},{"t":"0.1","x":0.1081,"c":0,"z":-0.158},
{"t":"x−position [m]","x":0.085,"c":0,"z":-0.58},{"t":"Cycles","x":-0.0449,"c":0,"z":0.055},{"t":"x 10","x":-0.0706,"c":0,"z":2.834},{"t":"x 10","x":-0.0854,"c":0,"z":0.566}]},
"transform":[{"calculate":"436+datum.x*4320-datum.c*331/15","as":"sx"},{"calculate":"503-datum.x*960-datum.c*126/15-datum.z*182","as":"sy"}],
"mark":{"type":"text","font":"Liberation Sans","fontSize":28,"align":"center","baseline":"middle","color":"black"},
"encoding":{"x":{"field":"sx","type":"quantitative","scale":{"domain":[0,925]},"axis":null},"y":{"field":"sy","type":"quantitative","scale":{"domain":[554,0]},"axis":null},"text":{"field":"t"}}},
{"data":{"values":[{"t":"−6","x":-0.0616,"c":0,"z":2.869},{"t":"9","x":-0.078,"c":0,"z":0.604}]},
"transform":[{"calculate":"436+datum.x*4320-datum.c*331/15","as":"sx"},{"calculate":"503-datum.x*960-datum.c*126/15-datum.z*182","as":"sy"}],
"mark":{"type":"text","font":"Liberation Sans","fontSize":20,"align":"center","baseline":"middle","color":"black"},
"encoding":{"x":{"field":"sx","type":"quantitative","scale":{"domain":[0,925]},"axis":null},"y":{"field":"sy","type":"quantitative","scale":{"domain":[554,0]},"axis":null},"text":{"field":"t"}}},
{"data":{"values":[{"t":"Profondeur d'usure [m]","x":-0.0949,"c":0,"z":2.22}]},
"transform":[{"calculate":"436+datum.x*4320-datum.c*331/15","as":"sx"},{"calculate":"503-datum.x*960-datum.c*126/15-datum.z*182","as":"sy"}],
"mark":{"type":"text","font":"Liberation Sans","fontSize":28,"align":"center","baseline":"middle","angle":270,"color":"black"},
"encoding":{"x":{"field":"sx","type":"quantitative","scale":{"domain":[0,925]},"axis":null},"y":{"field":"sy","type":"quantitative","scale":{"domain":[554,0]},"axis":null},"text":{"field":"t"}}}
]}
